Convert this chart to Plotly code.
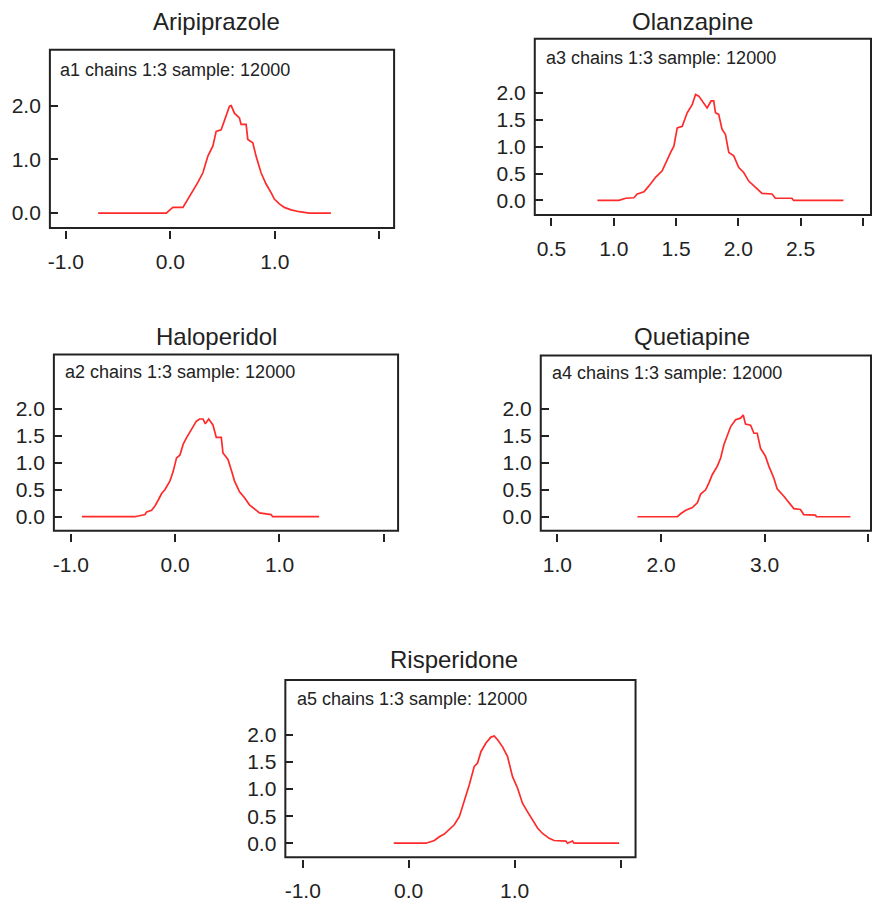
import plotly.graph_objects as go

W, H = 872, 902

# ---------------- data ----------------
TITLES = ["Aripiprazole", "Olanzapine", "Haloperidol", "Quetiapine", "Risperidone"]
NODE_LABELS = ["a1 chains 1:3 sample: 12000", "a3 chains 1:3 sample: 12000",
               "a2 chains 1:3 sample: 12000", "a4 chains 1:3 sample: 12000",
               "a5 chains 1:3 sample: 12000"]

ari_x = [-0.691, -0.038, -0.006, 0.025, 0.121, 0.169, 0.217, 0.264, 0.312, 0.360, 0.408,
         0.439, 0.487, 0.519, 0.567, 0.583, 0.614, 0.662, 0.678, 0.726, 0.742, 0.790,
         0.821, 0.869, 0.917, 0.965, 0.996, 1.044, 1.092, 1.156, 1.235, 1.330, 1.538]
ari_y = [0.0, 0.0, 0.055, 0.105, 0.105, 0.26, 0.41, 0.57, 0.75, 1.06, 1.25,
         1.52, 1.55, 1.74, 1.99, 2.0, 1.86, 1.77, 1.65, 1.65, 1.37, 1.31,
         1.06, 0.75, 0.54, 0.38, 0.26, 0.17, 0.105, 0.06, 0.025, 0.0, 0.0]

ola_x = [0.869, 1.042, 1.096, 1.162, 1.189, 1.243, 1.283, 1.336, 1.389, 1.416, 1.456,
         1.483, 1.510, 1.550, 1.590, 1.630, 1.657, 1.683, 1.710, 1.750, 1.782, 1.803,
         1.817, 1.843, 1.870, 1.897, 1.924, 1.964, 2.004, 2.044, 2.084, 2.137, 2.191,
         2.271, 2.298, 2.431, 2.444, 2.845]
ola_y = [0.0, 0.0, 0.04, 0.05, 0.12, 0.16, 0.27, 0.43, 0.55, 0.70, 0.89,
         1.01, 1.35, 1.38, 1.63, 1.78, 1.97, 1.94, 1.85, 1.72, 1.85, 1.85,
         1.63, 1.60, 1.32, 1.23, 0.89, 0.83, 0.61, 0.52, 0.36, 0.24, 0.13,
         0.12, 0.04, 0.04, 0.0, 0.0]

hal_x = [-0.894, -0.385, -0.289, -0.273, -0.226, -0.194, -0.162, -0.130, -0.099, -0.051,
         -0.019, 0.013, 0.045, 0.076, 0.108, 0.140, 0.172, 0.203, 0.235, 0.267, 0.289,
         0.321, 0.362, 0.394, 0.442, 0.458, 0.506, 0.537, 0.569, 0.617, 0.665, 0.712,
         0.760, 0.808, 0.919, 0.935, 1.380]
hal_y = [0.0, 0.0, 0.04, 0.09, 0.12, 0.20, 0.31, 0.43, 0.50, 0.66,
         0.84, 1.09, 1.14, 1.34, 1.46, 1.58, 1.67, 1.77, 1.81, 1.81, 1.72,
         1.81, 1.70, 1.47, 1.47, 1.18, 1.06, 0.87, 0.66, 0.46, 0.35, 0.22,
         0.14, 0.07, 0.04, 0.0, 0.0]

que_x = [1.772, 2.157, 2.189, 2.238, 2.302, 2.350, 2.382, 2.430, 2.462, 2.494, 2.543,
         2.575, 2.607, 2.639, 2.671, 2.719, 2.767, 2.793, 2.815, 2.864, 2.896, 2.928,
         2.960, 3.008, 3.040, 3.088, 3.120, 3.185, 3.233, 3.281, 3.345, 3.377, 3.490,
         3.499, 3.827]
que_y = [0.0, 0.0, 0.055, 0.12, 0.17, 0.26, 0.42, 0.50, 0.63, 0.78, 0.94,
         1.09, 1.34, 1.49, 1.67, 1.80, 1.83, 1.89, 1.72, 1.70, 1.55, 1.55,
         1.27, 1.12, 0.94, 0.72, 0.52, 0.38, 0.26, 0.15, 0.135, 0.04, 0.03,
         0.0, 0.0]

ris_x = [-0.141, 0.163, 0.242, 0.289, 0.336, 0.383, 0.430, 0.478, 0.525, 0.572, 0.619,
         0.650, 0.682, 0.729, 0.776, 0.807, 0.839, 0.886, 0.933, 0.980, 1.027, 1.074,
         1.122, 1.169, 1.216, 1.263, 1.326, 1.373, 1.483, 1.499, 1.546, 1.561, 1.986]
ris_y = [0.0, 0.0, 0.05, 0.12, 0.17, 0.26, 0.34, 0.49, 0.77, 1.08, 1.42,
         1.48, 1.69, 1.85, 1.96, 1.98, 1.91, 1.78, 1.60, 1.23, 1.02, 0.74,
         0.58, 0.44, 0.28, 0.18, 0.09, 0.05, 0.04, 0.0, 0.04, 0.0, 0.0]

SERIES_X = [ari_x, ola_x, hal_x, que_x, ris_x]
SERIES_Y = [ari_y, ola_y, hal_y, que_y, ris_y]

XTICK_VALS = [[-1, 0, 1, 2], [0.5, 1, 1.5, 2, 2.5, 3], [-1, 0, 1, 2], [1, 2, 3, 4], [-1, 0, 1, 2]]
XTICK_TEXT = [["-1.0", "0.0", "1.0", ""], ["0.5", "1.0", "1.5", "2.0", "2.5", ""],
              ["-1.0", "0.0", "1.0", ""], ["1.0", "2.0", "3.0", ""], ["-1.0", "0.0", "1.0", ""]]
YTICK_VALS = [[0, 1, 2], [0, 0.5, 1, 1.5, 2], [0, 0.5, 1, 1.5, 2], [0, 0.5, 1, 1.5, 2],
              [0, 0.5, 1, 1.5, 2]]

# ---------------- layout geometry (pixels) ----------------
BOXES = [(48, 393, 50, 229), (534, 871, 39, 216), (52, 397, 356, 533),
         (540, 871, 357, 533), (284, 635, 683, 861)]
XRANGES = [[-1.153, 2.143], [0.366, 3.066], [-1.163, 2.137], [0.839, 4.026], [-1.164, 2.141]]
YRANGES = [[-0.278, 3.04], [-0.272, 3.006], [-0.258, 3.007], [-0.258, 2.995], [-0.258, 3.015]]
TITLE_POS = [(215, 22), (692, 22), (215, 338), (692, 338), (453, 662)]
LABEL_POS = [(56, 70), (543, 58), (61, 374), (549, 375), (294, 702)]

FONT = "Liberation Sans, Arial, sans-serif"
INK = "#222222"

fig = go.Figure()
layout = dict(
    width=W, height=H, margin=dict(l=0, r=0, t=0, b=0),
    paper_bgcolor="white", plot_bgcolor="white", showlegend=False,
    font=dict(family=FONT, color=INK),
)
shapes, annotations = [], []

for i in range(5):
    n = "" if i == 0 else str(i + 1)
    x0, x1, y0, y1 = BOXES[i]
    fig.add_trace(go.Scatter(x=SERIES_X[i], y=SERIES_Y[i], mode="lines",
                             line=dict(color="#ff2a2a", width=1.7),
                             xaxis="x" + n, yaxis="y" + n, hoverinfo="skip"))
    layout["xaxis" + n] = dict(
        domain=[x0 / W, x1 / W], range=XRANGES[i], anchor="free",
        position=1 - (y1 + 2) / H,
        tickmode="array", tickvals=XTICK_VALS[i], ticktext=XTICK_TEXT[i],
        ticks="outside", ticklen=8, tickwidth=1.5, tickcolor=INK,
        showline=False, showgrid=False, zeroline=False,
        tickfont=dict(size=21, color=INK, family=FONT), ticklabelstandoff=5,
    )
    layout["yaxis" + n] = dict(
        domain=[1 - y1 / H, 1 - y0 / H], range=YRANGES[i], anchor="x" + n,
        tickmode="array", tickvals=YTICK_VALS[i],
        ticktext=["%.1f" % v for v in YTICK_VALS[i]],
        ticks="inside", ticklen=8, tickwidth=1.5, tickcolor=INK,
        showline=False, showgrid=False, zeroline=False,
        tickfont=dict(size=21, color=INK, family=FONT), ticklabelstandoff=8,
    )
    shapes.append(dict(type="rect", xref="x" + n + " domain", yref="y" + n + " domain",
                       x0=0, x1=1, y0=0, y1=1, line=dict(color=INK, width=2),
                       fillcolor="rgba(0,0,0,0)", layer="above"))
    tx, ty = TITLE_POS[i]
    annotations.append(dict(text=TITLES[i], x=tx / W, y=1 - ty / H, xref="paper", yref="paper",
                            xanchor="center", yanchor="middle", showarrow=False,
                            font=dict(size=24, color=INK, family=FONT)))
    lx, ly = LABEL_POS[i]
    annotations.append(dict(text=NODE_LABELS[i], x=lx / W, y=1 - ly / H, xref="paper",
                            yref="paper", xanchor="left", yanchor="middle", showarrow=False,
                            font=dict(size=18, color=INK, family=FONT)))

layout["shapes"] = shapes
layout["annotations"] = annotations
fig.update_layout(**layout)
fig.write_html("out.html")
